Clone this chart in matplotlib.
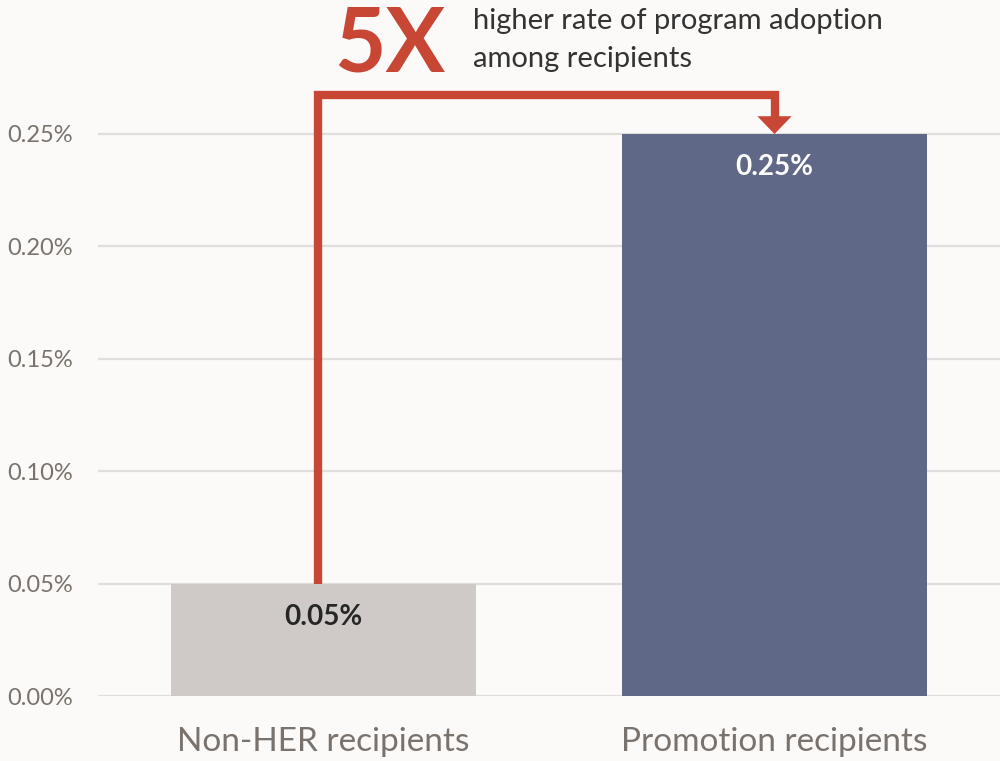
import matplotlib
matplotlib.use("Agg")
import matplotlib.pyplot as plt
from matplotlib.ticker import FuncFormatter

# data
categories = ["Non-HER recipients", "Promotion recipients"]
adoption_pct = [0.05, 0.25]
bar_colors = ["#cfcac7", "#5f6886"]
label_colors = ["#262626", "#ffffff"]
y_ticks = [0.00, 0.05, 0.10, 0.15, 0.20, 0.25]
multiplier_text = "5X"
note_text = "higher rate of program adoption\namong recipients"

RED = "#c84634"
BG = "#fbfaf8"

plt.rcParams["font.family"] = ["Lato", "DejaVu Sans"]

fig = plt.figure(figsize=(10, 7.61), dpi=100, facecolor=BG)
ax = fig.add_axes([0.098, 0.0854, 0.902, 0.9146], facecolor=BG)

x = list(range(len(categories)))
ax.bar(x, adoption_pct, width=0.676, color=bar_colors, zorder=2)

ax.set_xlim(-0.5, 1.5)
ax.set_ylim(0, 0.3096)
ax.set_yticks(y_ticks)
ax.yaxis.set_major_formatter(FuncFormatter(lambda v, _: f"{v:.2f}%"))
ax.grid(axis="y", color="#e0dedb", lw=1.6, zorder=0)
for s in ax.spines.values():
    s.set_visible(False)
ax.tick_params(axis="y", length=0, pad=18, labelsize=17, labelcolor="#7a726c")
ax.tick_params(axis="x", length=0, pad=22, labelsize=24, labelcolor="#7a726c")
ax.set_xticks(x)
ax.set_xticklabels(categories)

# value labels inside bars
for xi, v, c in zip(x, adoption_pct, label_colors):
    ax.text(xi, v - 0.0148, f"{v:.2f}%", ha="center", va="center",
            fontsize=20, fontweight="bold", color=c, zorder=3)

# elbow arrow from small bar to big bar
x0 = x[0] - 0.012
x1 = x[1]
y_top = 0.2674
head_h = 0.0071
head_w = 0.038
ax.plot([x0, x0, x1, x1], [adoption_pct[0], y_top, y_top, adoption_pct[1] + head_h],
        color=RED, lw=6, solid_joinstyle="miter", solid_capstyle="butt",
        clip_on=False, zorder=4)
ax.fill([x1 - head_w, x1 + head_w, x1],
        [adoption_pct[1] + head_h + 0.0008, adoption_pct[1] + head_h + 0.0008, adoption_pct[1]],
        color=RED, lw=0, clip_on=False, zorder=4)

ax.text(0.024, 0.2776, multiplier_text, ha="left", va="baseline",
        fontsize=64, fontweight="bold", color=RED, clip_on=False)
ax.text(0.3315, 0.3062, note_text, ha="left", va="top", fontsize=21,
        color="#333333", linespacing=1.6, clip_on=False)

fig.savefig("out.png", dpi=100, facecolor=BG)
